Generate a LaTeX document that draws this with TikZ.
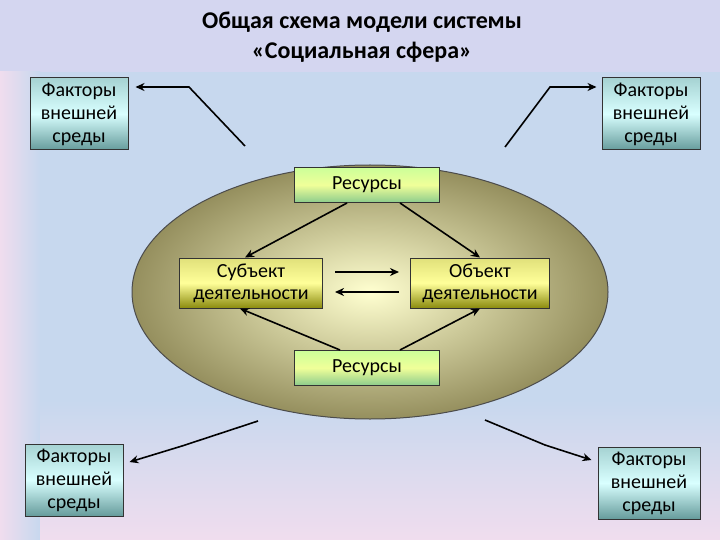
\documentclass[tikz,border=0pt]{standalone}
\usepackage{fontspec}
\setmainfont{Carlito}
\usetikzlibrary{arrows.meta}
\definecolor{bgblue}{HTML}{C7D8EE}
\definecolor{topband}{HTML}{D4D6F0}
\definecolor{pinkish}{HTML}{F0DDEE}
\definecolor{ellout}{HTML}{958F5E}
\definecolor{ellin}{HTML}{FFFFD0}
\tikzset{
  fbox/.style={draw=black!80,line width=1pt,top color=teal!35!white,bottom color=teal!70!black!60,middle color=cyan!15!white,minimum width=98pt,minimum height=72pt,align=center,font=\fontsize{20}{23}\selectfont,inner sep=1pt},
  rbox/.style={draw=black!80,line width=1pt,top color=green!25!white!80!yellow,bottom color=green!55!black!45,middle color=green!15!yellow!40,minimum width=145pt,minimum height=35pt,font=\fontsize{20}{22}\selectfont},
  abox/.style={draw=black!80,line width=1pt,top color=yellow!40!olive!40,bottom color=olive!70!black!70,middle color=yellow!40,minimum height=50pt,align=center,font=\fontsize{20}{22}\selectfont,inner sep=1pt},
  conn/.style={line width=1.6pt,-{Stealth[length=9pt,width=8pt]}}
}
\begin{document}
\begin{tikzpicture}[x=1pt,y=-1pt]
\useasboundingbox (0,0) rectangle (720,540);
\fill[topband] (0,0) rectangle (720,72);
\shade[left color=pinkish,right color=bgblue] (0,72) rectangle (40,540);
\fill[bgblue] (40,72) rectangle (720,540);
\shade[top color=bgblue,bottom color=pinkish] (40,400) rectangle (720,540);
\node[font=\bfseries\fontsize{24}{30}\selectfont,align=center] (title) at (362,37) {Общая схема модели системы\\«Социальная сфера»};
\shade[inner color=ellin,outer color=ellout,draw=black!70,line width=1pt] (370,292) ellipse [x radius=238,y radius=127];
\node[fbox] (tl) at (79,114) {Факторы\\внешней\\среды};
\node[fbox] (tr) at (651,114) {Факторы\\внешней\\среды};
\node[fbox] (bl) at (74,480) {Факторы\\внешней\\среды};
\node[fbox,minimum width=102pt] (br) at (649,483) {Факторы\\внешней\\среды};
\node[rbox] (r1) at (367,185) {Ресурсы};
\node[rbox] (r2) at (367,368) {Ресурсы};
\node[abox,minimum width=143pt] (s) at (251,283) {Субъект\\деятельности};
\node[abox,minimum width=139pt] (o) at (480,283) {Объект\\деятельности};
\coordinate (a1) at (245,146); \coordinate (a2) at (189,87);
\coordinate (b1) at (505,147); \coordinate (b2) at (550,87);
\coordinate (c1) at (258,421); \coordinate (c2) at (182,446);
\coordinate (d1) at (485,420); \coordinate (d2) at (545,445);
\draw[conn] (a1) -- (a2) -- ([xshift=7pt]tl.east |- a2);
\draw[conn] (b1) -- (b2) -- ([xshift=-5pt]tr.west |- b2);
\draw[conn] (c1) -- (c2) -- ([xshift=6pt]bl.north east |- 0,462);
\draw[conn] (d1) -- (d2) -- ([xshift=-6pt]br.west |- 0,460);
\draw[conn] ([xshift=-20pt]r1.south) -- ([xshift=-6pt]s.north);
\draw[conn] ([xshift=33pt]r1.south) -- (o.north);
\draw[conn] ([xshift=-27pt]r2.north) -- ([xshift=-11pt]s.south);
\draw[conn] ([xshift=33pt]r2.north) -- (o.south);
\draw[conn] ([xshift=12pt,yshift=11pt]s.east) -- ([xshift=-11pt,yshift=11pt]o.west);
\draw[conn] ([xshift=-11pt,yshift=-9pt]o.west) -- ([xshift=12pt,yshift=-9pt]s.east);
\end{tikzpicture}
\end{document}
